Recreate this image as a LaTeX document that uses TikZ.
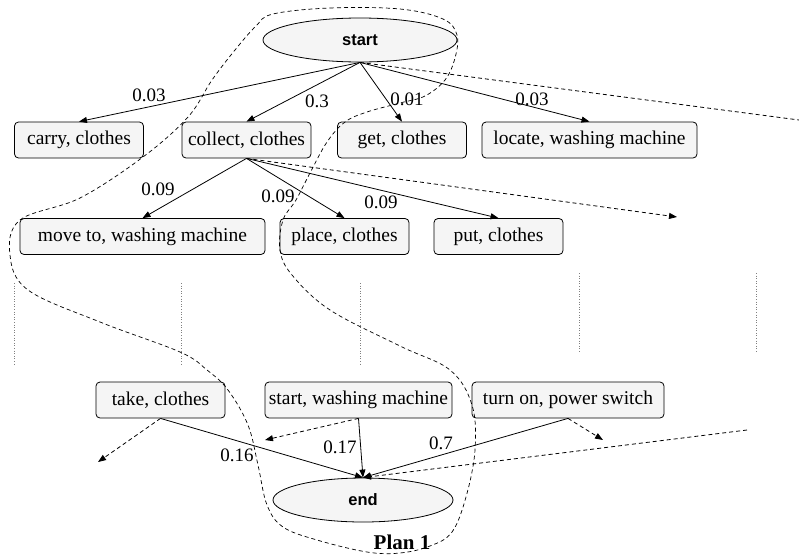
\documentclass[tikz,border=0pt]{standalone}
\usepackage{fontspec}
\setmainfont{Liberation Serif}
\newfontfamily\headfont{Liberation Sans}
\usetikzlibrary{arrows.meta,shapes.geometric}
\definecolor{boxgray}{HTML}{F5F5F5}
\tikzset{
  act/.style={draw, rounded corners=4pt, fill=boxgray, minimum height=36pt,
    minimum width=129pt, inner xsep=3pt, line width=0.8pt,
    font=\fontsize{19.5}{22}\selectfont},
  term/.style={draw, ellipse, fill=boxgray, inner sep=0pt, minimum height=44pt,
    line width=0.8pt, font=\headfont\bfseries\fontsize{16.5}{20}\selectfont},
  prob/.style={inner sep=0pt, font=\fontsize{19}{22}\selectfont},
  tr/.style={-{Triangle[length=8pt,width=6pt]}, line width=0.8pt},
  alt/.style={tr, dash pattern=on 4pt off 3pt},
  sep/.style={gray, dotted, line width=0.6pt},
}
\begin{document}
\begin{tikzpicture}[x=1pt, y=-1pt]
  \useasboundingbox (0,0) rectangle (799,557);

  % start / end
  \node[term, minimum width=194pt] (start) at (360,40) {start};
  \node[term, minimum width=180pt] (end) at (363,500) {end};

  % first level
  \node[act] (carry) at (79,140) {carry, clothes};
  \node[act] (collect) at (246.5,140) {collect, clothes};
  \node[act] (get) at (402,140) {get, clothes};
  \node[act, minimum width=215pt] (locate) at (589.5,140) {locate, washing machine};

  % second level
  \node[act, minimum width=245pt] (moveto) at (142.5,236.5) {move to, washing machine};
  \node[act] (place) at (344.5,236.5) {place, clothes};
  \node[act] (put) at (498.5,236.5) {put, clothes};

  % last level
  \node[act] (take) at (160.5,400) {take, clothes};
  \node[act, minimum width=187pt] (startwm) at (358.5,400) {start, washing machine};
  \node[act, minimum width=192pt] (turnon) at (568,400) {turn on, power switch};

  % loose ends
  \coordinate (outA) at (799,120);
  \coordinate (outB) at (677,217);
  \coordinate (outC) at (98,462);
  \coordinate (outD) at (265,440);
  \coordinate (outE) at (603,440);
  \coordinate (inF) at (747,430);

  \draw[tr] (start.south) -- (carry.north);
  \draw[tr] (start.south) -- (collect.north);
  \draw[tr] (start.south) -- (get.north);
  \draw[tr] (start.south) -- (locate.north);
  \draw[line width=0.8pt, dash pattern=on 4pt off 3pt] (start.south) -- (outA);

  \draw[tr] (collect.south) -- (moveto.north);
  \draw[tr] (collect.south) -- (place.north);
  \draw[tr] (collect.south) -- (put.north);
  \draw[alt] (collect.south) -- (outB);

  \draw[tr] (take.south) -- (end.north);
  \draw[tr] (startwm.south) -- (end.north);
  \draw[tr] (turnon.south) -- (end.north);
  \draw[alt] (take.south) -- (outC);
  \draw[alt] (startwm.south) -- (outD);
  \draw[alt] (turnon.south) -- (outE);
  \draw[alt] (inF) -- (end.north);

  % probabilities
  \node[prob] (p1) at (149,95) {0.03};
  \node[prob] (p2) at (317,101) {0.3};
  \node[prob] (p3) at (407,99) {0.01};
  \node[prob] (p4) at (532,99) {0.03};
  \node[prob] (p5) at (158,189) {0.09};
  \node[prob] (p6) at (278,196) {0.09};
  \node[prob] (p7) at (381,202) {0.09};
  \node[prob] (p8) at (237,455) {0.16};
  \node[prob] (p9) at (340,447) {0.17};
  \node[prob] (p10) at (441,443) {0.7};

  % elided levels
  \foreach \x in {14,181,360}
    \draw[sep] (\x,283) -- (\x,365);
  \foreach \x in {579,756}
    \draw[sep] (\x,273) -- (\x,353);

  % plan outline
  \draw[line width=0.7pt, dash pattern=on 4pt off 3pt]
    plot[smooth cycle, tension=0.6] coordinates {
      (273,14) (330,8) (400,9) (443,19) (457,35) (455,58) (445,80) (425,96)
      (400,103) (367,112) (345,122) (327,142) (310,173) (296,200) (283,220)
      (280,250) (292,275) (330,310) (400,346) (450,370) (472,405) (475,450)
      (466,497) (452,532) (430,546) (400,553) (367,552) (317,540) (283,527)
      (267,505) (258,465) (248,425) (228,390) (207,370) (180,352) (100,322)
      (28,290) (10,255) (20,220) (80,198) (143,157) (188,117) (212,80)
      (235,50) (256,26)};
  \node[inner sep=0pt, font=\bfseries\fontsize{21}{24}\selectfont] (plan) at (402,542) {Plan 1};
\end{tikzpicture}
\end{document}
